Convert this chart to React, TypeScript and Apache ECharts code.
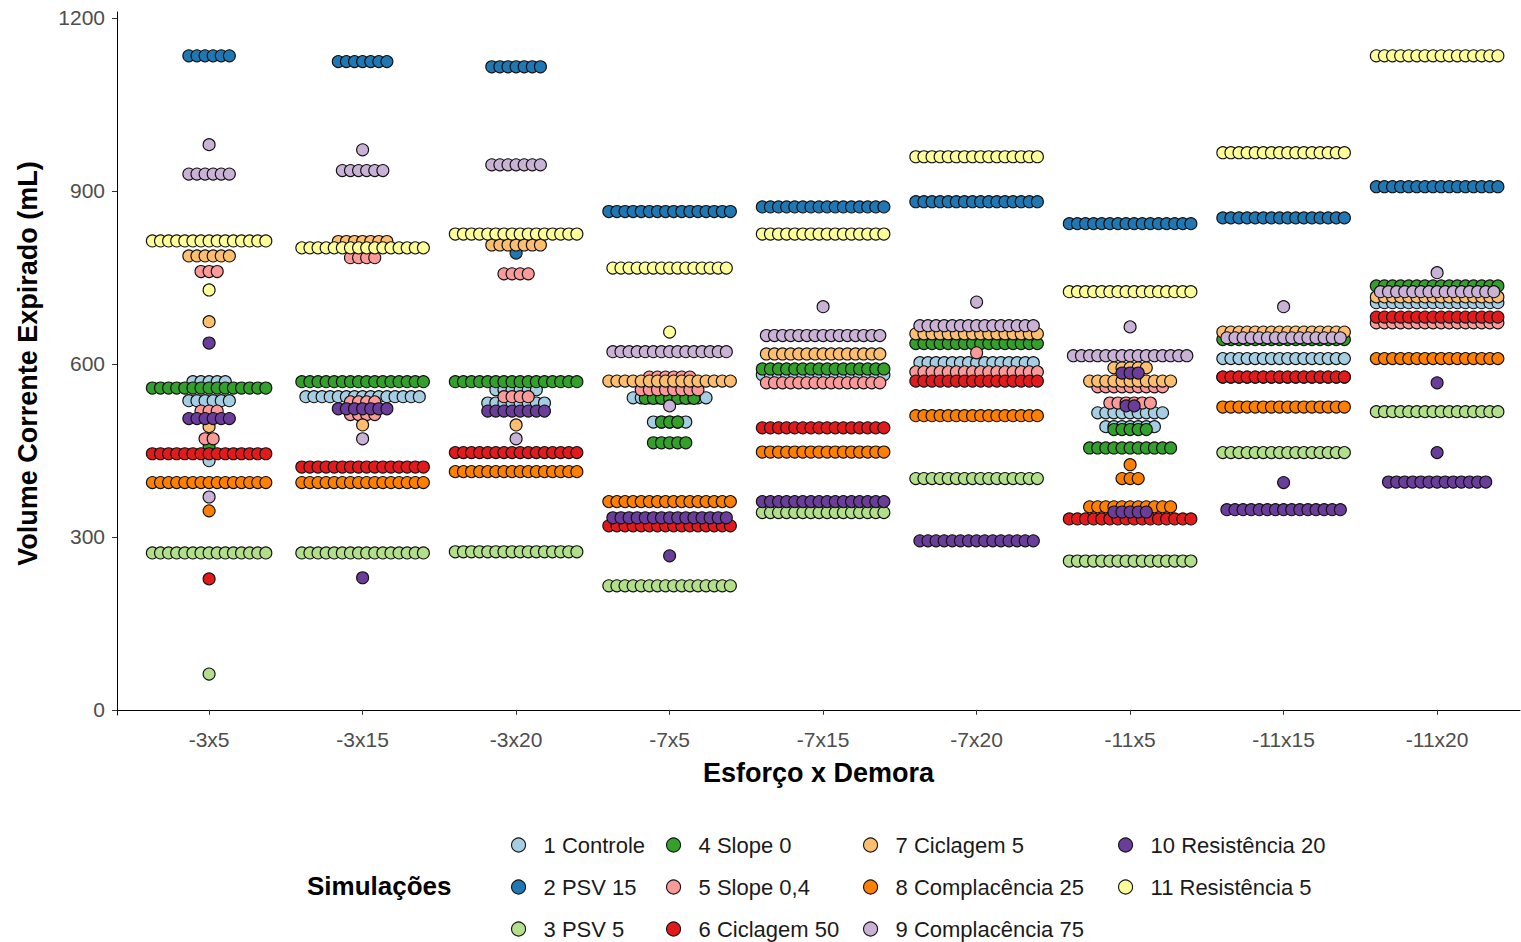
import React, { useEffect, useRef } from "react";
import * as echarts from "echarts";

// Esforço x Demora combinations on the horizontal axis
const CATEGORIES = ["-3x5", "-3x15", "-3x20", "-7x5", "-7x15", "-7x20", "-11x5", "-11x15", "-11x20"];
const Y_TICKS = [0, 300, 600, 900, 1200];

const SIM_NAMES = [
  "1 Controle",
  "2 PSV 15",
  "3 PSV 5",
  "4 Slope 0",
  "5 Slope 0,4",
  "6 Ciclagem 50",
  "7 Ciclagem 5",
  "8 Complacência 25",
  "9 Complacência 75",
  "10 Resistência 20",
  "11 Resistência 5",
];

const SIM_COLORS = [
  "#A6CEE3", "#1F78B4", "#B2DF8A", "#33A02C", "#FB9A99", "#E31A1C",
  "#FDBF6F", "#FF7F00", "#CAB2D6", "#6A3D9A", "#FFFF99",
];

// For each simulation: one entry per category, rows of [volume (mL), number of breaths at that volume]
const controle = [
  [[569, 5], [536, 6], [432, 1]],
  [[543, 15]],
  [[555, 6], [532, 8]],
  [[541, 10], [499, 5]],
  [[581, 16]],
  [[602, 15]],
  [[515, 9], [491, 7]],
  [[609, 16]],
  [[706, 16]],
];
const psv15 = [
  [[1134, 6]],
  [[1124, 7]],
  [[1115, 7], [792, 1]],
  [[864, 16]],
  [[872, 16]],
  [[881, 16]],
  [[843, 16]],
  [[853, 16]],
  [[907, 16]],
];
const psv5 = [
  [[272, 15], [62, 1]],
  [[272, 16]],
  [[274, 16]],
  [[215, 16]],
  [[342, 16]],
  [[401, 16]],
  [[258, 16]],
  [[446, 16]],
  [[517, 16]],
];
const slope0 = [
  [[558, 15], [456, 1]],
  [[569, 16]],
  [[569, 16]],
  [[540, 7], [499, 3], [463, 5]],
  [[591, 16]],
  [[635, 16]],
  [[486, 5], [454, 11]],
  [[642, 16]],
  [[735, 16]],
];
const slope04 = [
  [[760, 3], [518, 3], [470, 2]],
  [[784, 4], [534, 4], [512, 4]],
  [[756, 4], [543, 4]],
  [[577, 6], [555, 8]],
  [[567, 15]],
  [[619, 1], [586, 16]],
  [[560, 9], [532, 6]],
  [[577, 16]],
  [[671, 16]],
];
const ciclagem50 = [
  [[444, 15], [227, 1]],
  [[421, 16]],
  [[446, 16]],
  [[319, 16]],
  [[489, 16]],
  [[570, 16]],
  [[331, 16]],
  [[577, 16]],
  [[681, 16]],
];
const ciclagem5 = [
  [[787, 6], [673, 1], [491, 1]],
  [[812, 7], [494, 1]],
  [[806, 7], [494, 1]],
  [[570, 16]],
  [[617, 15]],
  [[652, 16]],
  [[593, 5], [570, 11]],
  [[655, 16]],
  [[716, 16]],
];
const complacencia25 = [
  [[394, 15], [345, 1]],
  [[394, 16]],
  [[413, 16]],
  [[361, 16]],
  [[447, 16]],
  [[510, 16]],
  [[425, 1], [401, 3], [352, 11]],
  [[525, 16]],
  [[609, 16]],
];
const complacencia75 = [
  [[980, 1], [929, 6], [369, 1]],
  [[971, 1], [935, 6], [470, 1]],
  [[945, 7], [470, 1]],
  [[621, 15], [527, 1]],
  [[699, 1], [649, 15]],
  [[707, 1], [666, 15]],
  [[664, 1], [614, 15]],
  [[699, 1], [645, 15]],
  [[758, 1], [725, 15]],
];
const resistencia20 = [
  [[636, 1], [505, 6]],
  [[522, 7], [229, 1]],
  [[518, 8]],
  [[333, 15], [267, 1]],
  [[361, 16]],
  [[293, 15]],
  [[584, 3], [527, 2], [343, 5]],
  [[394, 1], [347, 15]],
  [[567, 1], [446, 1], [395, 13]],
];
const resistencia5 = [
  [[813, 15], [728, 1]],
  [[801, 16]],
  [[825, 16]],
  [[766, 15], [655, 1]],
  [[825, 16]],
  [[959, 16]],
  [[725, 16]],
  [[966, 16]],
  [[1134, 16]],
];

const SIM_ROWS = [
  controle, psv15, psv5, slope0, slope04, ciclagem50,
  ciclagem5, complacencia25, complacencia75, resistencia20, resistencia5,
];

// horizontal spacing between stacked dots, in category units
const DOT_STEP = 0.0528;
const FONT = "'Liberation Sans', Arial, sans-serif";

// legend grid: 3 rows, filled column by column
const LEGEND_COL_X = [518, 673, 870, 1125];
const LEGEND_ROW_Y = [845, 887, 929];

// centred dot stacks: each row of n equal values is spread symmetrically around its category
function stackDots(rows: number[][][]) {
  const pts: number[][] = [];
  rows.forEach((catRows, ci) => {
    catRows.forEach(([value, count]) => {
      for (let i = 0; i < count; i++) {
        pts.push([ci + 1 + (i - (count - 1) / 2) * DOT_STEP, value]);
      }
    });
  });
  return pts;
}

export default function App() {
  const ref = useRef<HTMLDivElement>(null);

  useEffect(() => {
    if (!ref.current) return;
    const chart = echarts.init(ref.current, undefined, { renderer: "svg" });

    const series = SIM_NAMES.map((name, si) => ({
      name,
      type: "scatter",
      symbol: "circle",
      symbolSize: 12,
      itemStyle: { color: SIM_COLORS[si], borderColor: "#111", borderWidth: 1.1, opacity: 1 },
      emphasis: { disabled: true },
      data: stackDots(SIM_ROWS[si]),
    }));

    const legends = SIM_NAMES.map((name, i) => ({
      orient: "vertical",
      icon: "circle",
      itemWidth: 40,
      itemHeight: 14,
      selectedMode: false,
      data: [name],
      left: LEGEND_COL_X[Math.floor(i / 3)] - 12,
      top: LEGEND_ROW_Y[i % 3] - 17,
      itemStyle: { borderColor: "#111", borderWidth: 1.1 },
      textStyle: { fontFamily: FONT, fontSize: 22, color: "#1a1a1a", lineHeight: 24 },
    }));

    chart.setOption({
      animation: false,
      backgroundColor: "#ffffff",
      grid: { left: 117, right: 1, top: 12, bottom: 227, containLabel: false },
      xAxis: {
        type: "value",
        min: 0.4,
        max: 9.54,
        name: "Esforço x Demora",
        nameLocation: "middle",
        nameGap: 44,
        nameTextStyle: { fontFamily: FONT, fontSize: 27, fontWeight: "bold", color: "#000" },
        splitLine: { show: false },
        axisLine: { show: true, lineStyle: { color: "#000", width: 1 } },
        axisTick: {
          show: true,
          length: 5,
          customValues: CATEGORIES.map((_, i) => i + 1),
          lineStyle: { color: "#333" },
        },
        axisLabel: {
          customValues: CATEGORIES.map((_, i) => i + 1),
          formatter: (v: number) => CATEGORIES[Math.round(v) - 1] ?? "",
          fontFamily: FONT,
          fontSize: 21,
          color: "#4D4D4D",
          margin: 14,
        },
      },
      yAxis: {
        type: "value",
        min: -9,
        max: 1210,
        name: "Volume Corrente Expirado (mL)",
        nameLocation: "middle",
        nameGap: 76,
        nameRotate: 90,
        nameTextStyle: { fontFamily: FONT, fontSize: 27, fontWeight: "bold", color: "#000" },
        splitLine: { show: false },
        axisLine: { show: true, lineStyle: { color: "#000", width: 1 } },
        axisTick: { show: true, length: 5, customValues: Y_TICKS, lineStyle: { color: "#333" } },
        axisLabel: {
          customValues: Y_TICKS,
          formatter: (v: number) => String(v),
          fontFamily: FONT,
          fontSize: 21,
          color: "#4D4D4D",
          margin: 12,
        },
      },
      legend: legends,
      graphic: [
        {
          type: "text",
          left: 307,
          top: 873,
          style: {
            text: "Simulações",
            fontFamily: FONT,
            fontSize: 26,
            fontWeight: "bold",
            fill: "#000",
          },
        },
      ],
      series,
    });

    return () => chart.dispose();
  }, []);

  return (
    <div
      ref={ref}
      style={{ position: "fixed", left: 0, top: 0, width: 1521, height: 942 }}
    />
  );
}
